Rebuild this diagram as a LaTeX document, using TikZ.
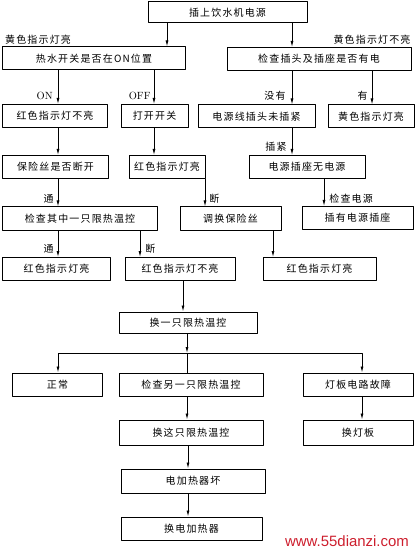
\documentclass[tikz,border=0pt]{standalone}
\usepackage{fontspec}
\newfontfamily\cjk[LetterSpace=12]{Noto Sans CJK SC}
\newfontfamily\wmfont{Liberation Sans}
\usetikzlibrary{arrows.meta}
\definecolor{markred}{RGB}{205,30,45}
\begin{document}
\begin{tikzpicture}[x=1bp, y=-1bp, line join=round,
	box/.style={draw, line width=1bp, minimum height=23bp, inner sep=0pt, font=\cjk\fontsize{10}{12}\selectfont},
	arr/.style={line width=.8bp, -{Latex[length=6bp,width=3bp]}},
	lbl/.style={inner sep=0pt, font=\cjk\fontsize{10}{12}\selectfont},
	lat/.style={inner sep=0pt, font=\rmfamily\fontsize{10.5}{12}\selectfont}]
	\useasboundingbox (0,0) rectangle (416,553);
	\node[box, minimum width=159bp, minimum height=21bp] (power) at (227.5,12.5) {插上饮水机电源};
	\node[box, minimum width=182bp] (hot) at (94,58.5) {热水开关是否在ON位置};
	\node[box, minimum width=184bp] (check) at (319,59) {检查插头及插座是否有电};
	\node[lbl] (yes) at (38,40) {黄色指示灯亮};
	\node[lbl] (no) at (372,40) {黄色指示灯不亮};
	\node[box, minimum width=104bp] (red1) at (55,116) {红色指示灯不亮};
	\node[box, minimum width=67bp] (open) at (154.5,116) {打开开关};
	\node[box, minimum width=117bp] (plug) at (256.5,116.5) {电源线插头未插紧};
	\node[box, minimum width=86bp] (yellow) at (371,116.5) {黄色指示灯亮};
	\node[box, minimum width=105bp] (fuse) at (55.5,167) {保险丝是否断开};
	\node[box, minimum width=76bp] (red2) at (167,167) {红色指示灯亮};
	\node[box, minimum width=116bp] (socket) at (307,167) {电源插座无电源};
	\node[box, minimum width=154bp] (one) at (80,218.5) {检查其中一只限热温控};
	\node[box, minimum width=101bp] (swap) at (230.5,218.5) {调换保险丝};
	\node[box, minimum width=111bp] (insert) at (357.5,218) {插有电源插座};
	\node[box, minimum width=107bp] (red3) at (56.5,269) {红色指示灯亮};
	\node[box, minimum width=110bp] (red4) at (180,269) {红色指示灯不亮};
	\node[box, minimum width=113bp] (red5) at (319.5,269) {红色指示灯亮};
	\node[box, minimum width=138bp, minimum height=21bp] (change) at (188,322.5) {换一只限热温控};
	\node[box, minimum width=89bp] (ok) at (57.5,384.5) {正常};
	\node[box, minimum width=144bp] (other) at (191,384.5) {检查另一只限热温控};
	\node[box, minimum width=110bp] (lamp) at (358,384.5) {灯板电路故障};
	\node[box, minimum width=144bp, minimum height=25bp] (this) at (191,432.5) {换这只限热温控};
	\node[box, minimum width=110bp, minimum height=25bp] (board) at (358,432.5) {换灯板};
	\node[box, minimum width=144bp, minimum height=24bp] (heater) at (193,481) {电加热器坏};
	\node[box, minimum width=141bp] (newheater) at (191.5,528.5) {换电加热器};
	\foreach \a/\b/\x in {power/hot/167, power/check/292, red1/fuse/58, open/red2/154, swap/red5/273, red4/change/183, other/this/187, lamp/board/362, this/heater/188, heater/newheater/188}
		\draw[arr] (\a.south -| \x,0) -- (\b.north -| \x,0);
	\draw[arr] (hot.south -| 58,0) -- node[lat, pos=.77, left=5bp] {ON} (red1.north -| 58,0);
	\draw[arr] (hot.south -| 154,0) -- node[lat, pos=.77, left=3bp] {OFF} (open.north -| 154,0);
	\draw[arr] (check.south -| 292,0) -- node[lbl, pos=.75, left=6bp] {没有} (plug.north -| 292,0);
	\draw[arr] (check.south -| 372,0) -- node[lbl, pos=.75, left=4bp] {有} (yellow.north -| 372,0);
	\draw[arr] (plug.south -| 292,0) -- node[lbl, pos=.68, left=5bp] {插紧} (socket.north -| 292,0);
	\draw[arr] (fuse.south -| 58,0) -- node[lbl, pos=.72, left=4bp] {通} (one.north -| 58,0);
	\draw[arr] (red2.south -| 205,0) -- node[lbl, pos=.72, right=4bp] {断} (swap.north -| 205,0);
	\draw[arr] (socket.south -| 324,0) -- node[lbl, pos=.72, right=5bp] {检查电源} (insert.north -| 324,0);
	\draw[arr] (one.south -| 58,0) -- node[lbl, pos=.68, left=4bp] {通} (red3.north -| 58,0);
	\draw[arr] (one.south -| 140,0) -- node[lbl, pos=.68, right=5bp] {断} (red4.north -| 140,0);
	\coordinate (fork) at (187,353);
	\draw[arr] (change.south -| fork) -- (fork);
	\draw[line width=.8bp] (fork) -- (other.north -| fork);
	\draw[arr] (fork) -| (ok.north -| 58,0);
	\draw[arr] (fork) -| (lamp.north -| 362,0);
	\node[text=markred, inner sep=0pt, font=\wmfont\fontsize{15}{15}\selectfont] (mark) at (347,541) {www.55dianzi.com};
\end{tikzpicture}
\end{document}
